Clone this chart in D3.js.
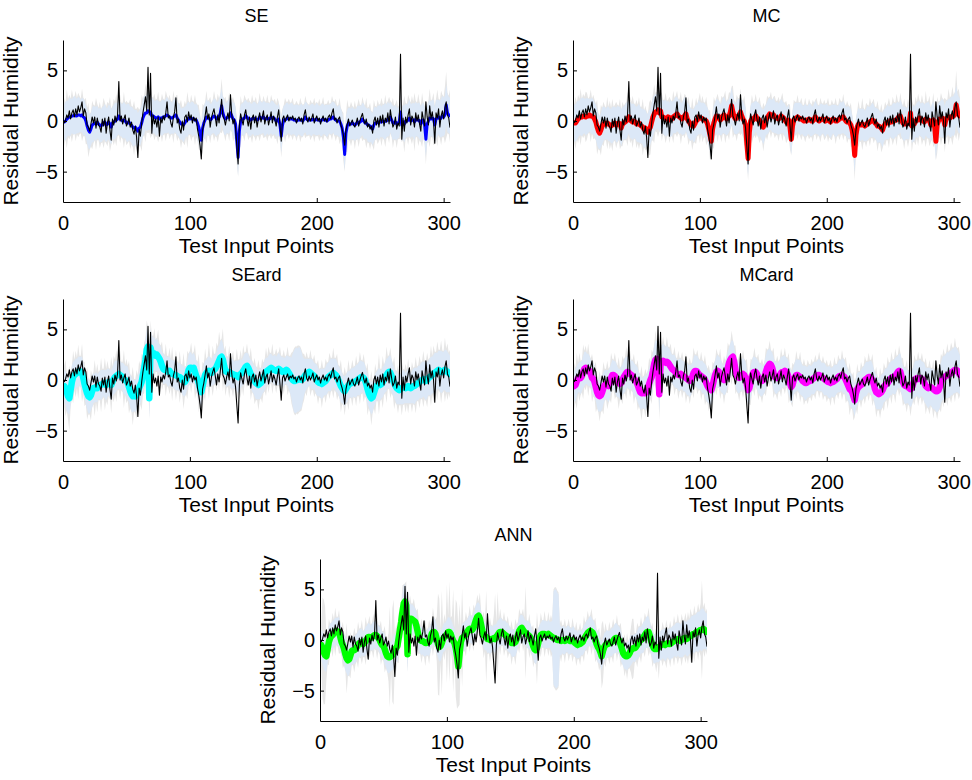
<!DOCTYPE html>
<html><head><meta charset="utf-8">
<script src="https://cdn.jsdelivr.net/npm/d3@7"></script>
<style>body{margin:0;background:#fff}svg{display:block}text{font-family:"Liberation Sans",Arial,sans-serif;fill:#000}</style>
</head><body>
<script>
const panelTitles = ["SE","MC","SEard","MCard","ANN"];
const xTickValues = [0,100,200,300];
const yTickValues = [-5,0,5];
const xLabel = "Test Input Points";
const yLabel = "Residual Humidity";

// observed residual humidity (black line), test points 1..305
const obs = [
-0.2,0.1,0.6,0.3,1.0,0.2,0.8,1.1,0.4,1.2,
0.6,1.5,0.9,1.3,1.9,0.5,1.2,0.8,-0.4,-0.6,
-1.0,-0.3,0.4,-0.2,0.4,-0.7,0.3,-0.4,-0.6,-1.1,
0.2,-0.5,0.3,-1.2,-0.2,0.4,-0.9,-1.9,0.2,-0.4,
0.5,-0.1,0.6,3.9,0.0,0.5,-0.3,0.2,0.6,-0.5,
-0.2,0.3,-0.6,-0.1,-0.9,-1.3,-0.5,-1.6,-3.6,-0.8,
-1.5,-0.2,0.8,1.6,2.4,1.0,5.3,0.6,4.7,-1.2,
0.6,-0.3,0.2,-0.6,0.4,-1.5,0.3,-0.2,0.5,0.1,
0.8,1.9,0.3,0.5,-0.2,-0.6,0.4,0.9,2.3,-0.2,
0.2,-0.8,-1.2,0.0,-0.9,0.4,0.6,-0.1,0.9,0.2,
0.6,-0.2,0.4,0.0,0.3,-0.8,-1.5,-2.4,-3.75,-0.9,
-0.3,0.5,1.4,0.2,0.7,-0.6,0.3,0.8,1.2,0.4,
-0.5,0.6,-0.2,0.9,2.15,0.5,0.2,-0.4,0.3,0.8,
0.0,2.6,0.6,-0.3,0.2,-0.7,-2.5,-4.25,-0.5,0.7,
0.1,-0.4,0.6,1.1,0.2,-0.5,0.4,-0.8,0.3,0.6,
-0.2,0.5,-0.6,0.2,0.8,-0.1,0.4,1.0,-0.3,0.3,
0.6,-0.4,0.2,0.9,-0.2,0.5,0.1,-0.5,0.4,1.1,
-0.4,-2.0,0.2,0.5,-0.1,0.3,0.6,0.0,0.4,0.2,
0.5,0.1,0.3,-0.2,0.2,0.4,0.0,0.3,-0.3,0.6,
1.1,0.2,-0.1,0.4,0.0,0.3,0.7,-0.2,0.2,0.5,
0.0,0.3,-0.3,0.2,0.5,0.0,0.3,-0.1,0.4,0.6,
0.2,0.8,1.2,0.1,0.3,-0.2,0.2,0.4,-0.4,-0.8,
-1.4,-2.4,-0.9,-0.3,0.2,-0.5,-0.2,0.1,-0.4,-0.6,
-0.2,0.3,-0.5,0.0,0.4,0.75,0.1,-0.3,0.2,-0.6,
-0.3,-0.8,-0.5,-1.2,0.0,0.4,-0.4,0.3,-0.6,0.5,
-0.2,0.6,-0.5,0.3,-0.1,0.8,-0.3,1.1,0.2,-0.6,
-0.3,0.4,-0.8,-0.2,-0.5,6.6,-1.8,0.3,-1.0,0.4,
-0.2,0.6,1.2,-0.4,0.5,0.2,-0.6,0.8,0.0,0.6,
-0.3,-1.0,0.9,0.2,-0.5,1.9,0.4,-0.4,1.5,0.2,
0.9,0.0,-2.2,0.8,0.3,1.2,-0.6,0.5,1.0,0.2,
1.3,1.9,0.6,0.3,-0.65];

// predictive means
const seMean = [
-0.1,0.0,0.2,0.3,0.4,0.4,0.5,0.5,0.6,0.5,
0.5,0.6,0.6,0.5,0.6,0.4,0.3,0.0,-0.5,-0.9,
-1.1,-0.8,-0.4,-0.3,-0.2,-0.3,-0.1,-0.3,-0.4,-0.5,
-0.3,-0.2,-0.1,-0.4,-0.3,-0.1,-0.3,-0.6,-0.2,-0.1,
0.0,0.1,0.2,0.5,0.2,0.1,0.0,0.1,0.0,-0.2,
-0.2,-0.1,-0.3,-0.4,-0.6,-0.7,-0.6,-0.8,-1.0,-0.7,
-0.6,-0.2,0.3,0.6,0.8,0.8,1.0,0.9,0.9,0.5,
0.5,0.4,0.3,0.3,0.4,0.2,0.3,0.3,0.4,0.4,
0.5,0.6,0.5,0.4,0.3,0.3,0.4,0.5,0.6,0.3,
0.1,-0.1,-0.3,-0.3,-0.4,-0.2,0.0,0.1,0.3,0.2,
0.3,0.2,0.2,0.1,0.1,-0.2,-0.6,-1.2,-1.9,-0.7,
-0.2,0.1,0.4,0.3,0.3,0.1,0.2,0.4,0.5,0.4,
0.2,0.3,0.4,0.8,1.5,0.8,0.4,0.2,0.3,0.4,
0.4,0.8,0.5,0.2,0.1,-0.3,-2.0,-3.6,-1.0,0.0,
0.2,0.2,0.3,0.5,0.4,0.2,0.2,0.1,0.2,0.3,
0.2,0.2,0.1,0.2,0.4,0.3,0.3,0.4,0.2,0.2,
0.3,0.2,0.2,0.4,0.3,0.3,0.2,0.0,0.0,0.2,
-0.4,-1.5,-0.4,0.1,0.1,0.2,0.3,0.2,0.2,0.2,
0.2,0.1,0.1,0.0,0.1,0.1,0.1,0.1,0.0,0.2,
0.4,0.2,0.1,0.1,0.1,0.1,0.2,0.1,0.1,0.2,
0.1,0.1,0.0,0.1,0.2,0.1,0.1,0.0,0.1,0.2,
0.2,0.3,0.4,0.2,0.1,0.0,0.0,0.0,-0.3,-0.7,
-1.6,-3.3,-1.2,-0.5,-0.2,-0.3,-0.3,-0.2,-0.3,-0.4,
-0.3,-0.1,-0.2,-0.1,0.0,0.2,0.0,-0.2,-0.2,-0.4,
-0.4,-0.5,-0.6,-0.8,-0.4,-0.2,-0.2,-0.1,-0.2,0.0,
-0.1,0.0,-0.1,0.0,0.0,0.2,0.1,0.4,0.1,-0.2,
-0.2,-0.1,-0.3,-0.2,-0.1,0.9,-0.4,-0.1,-0.3,0.0,
0.0,0.1,0.3,0.0,0.1,0.1,-0.1,0.2,0.1,0.1,
0.0,-0.3,0.1,0.1,-0.4,-1.8,-0.3,0.0,0.3,0.2,
0.3,0.2,-0.4,0.2,0.3,0.4,0.2,0.3,0.5,0.4,
0.6,1.6,0.8,0.6,0.5];

const mcMean = [
-0.2,-0.2,0.0,0.2,0.3,0.4,0.4,0.5,0.5,0.4,
0.5,0.5,0.6,0.5,0.5,0.4,0.2,-0.1,-0.6,-1.0,
-1.2,-0.9,-0.5,-0.3,-0.2,-0.3,-0.2,-0.3,-0.4,-0.5,
-0.4,-0.3,-0.2,-0.4,-0.3,-0.2,-0.3,-0.7,-0.3,-0.2,
-0.1,0.0,0.2,0.4,0.1,0.0,-0.1,0.0,-0.1,-0.3,
-0.3,-0.2,-0.4,-0.5,-0.6,-0.8,-0.7,-0.9,-1.1,-0.8,
-0.6,-0.1,0.4,0.7,0.9,0.9,1.1,0.8,1.0,0.4,
0.4,0.3,0.3,0.2,0.4,0.1,0.3,0.2,0.4,0.5,
0.6,0.7,0.5,0.4,0.3,0.2,0.4,0.5,0.7,0.2,
0.0,-0.2,-0.4,-0.3,-0.5,-0.3,0.0,0.1,0.4,0.3,
0.3,0.2,0.1,0.1,0.0,-0.3,-0.8,-1.4,-2.0,-0.8,
-0.2,0.2,0.5,0.3,0.4,0.1,0.2,0.5,0.6,0.4,
0.2,0.4,0.5,0.9,1.5,0.9,0.4,0.2,0.3,0.5,
0.5,0.9,0.5,0.2,0.0,-0.4,-2.2,-3.7,-1.1,0.0,
0.2,0.1,0.3,0.5,0.3,0.1,0.1,-0.1,-0.4,-0.6,
-0.3,0.1,0.3,0.5,0.7,0.6,0.5,0.6,0.4,0.3,
0.3,0.2,0.3,0.5,0.4,0.3,0.1,-0.1,-0.2,0.1,
-0.6,-1.8,-0.5,0.1,0.2,0.3,0.4,0.3,0.2,0.2,
0.1,0.0,0.1,0.0,0.1,0.2,0.1,0.0,0.0,0.2,
0.4,0.2,0.1,0.0,0.1,0.2,0.2,0.1,0.0,0.2,
0.1,0.0,-0.1,0.1,0.2,0.1,0.0,0.0,0.1,0.2,
0.3,0.3,0.4,0.2,0.0,-0.1,-0.1,-0.2,-0.4,-0.9,
-1.8,-3.4,-1.4,-0.6,-0.3,-0.4,-0.4,-0.3,-0.4,-0.5,
-0.4,-0.2,-0.2,-0.1,0.0,0.1,0.0,-0.2,-0.3,-0.5,
-0.5,-0.6,-0.7,-0.9,-0.5,-0.3,-0.2,-0.1,-0.2,0.0,
-0.1,0.0,0.0,0.1,0.1,0.3,0.2,0.5,0.1,-0.2,
-0.3,-0.2,-0.3,-0.2,-0.1,0.8,-0.5,-0.2,-0.3,0.0,
0.1,0.1,0.3,0.1,0.1,0.0,-0.1,0.2,0.1,0.1,
0.0,-0.4,0.0,0.1,-0.5,-2.0,-0.4,0.0,0.2,0.2,
0.3,0.2,-0.4,0.2,0.3,0.4,0.3,0.4,0.5,0.5,
0.8,1.6,0.9,0.6,0.5];

const seardMean = [
-0.6,-0.8,-1.2,-1.6,-1.8,-1.0,-0.2,0.3,0.5,0.6,
0.7,0.8,0.9,0.8,0.7,0.2,-0.4,-0.9,-1.3,-1.6,
-1.7,-1.5,-1.1,-0.8,-0.8,-0.7,-0.8,-0.6,-0.5,-0.5,
-0.4,-0.3,-0.4,-0.5,-0.3,-0.2,-0.4,-0.5,-0.2,0.1,
0.3,0.4,0.5,0.6,0.5,0.4,0.3,0.1,0.0,-0.1,
-0.3,-0.7,-1.1,-1.4,-1.6,-1.5,-1.6,-1.4,-1.2,-0.8,
-0.5,-0.2,0.5,1.2,2.0,3.0,3.3,-1.8,3.2,2.6,
2.5,2.6,2.4,2.5,2.3,2.1,1.8,1.4,1.1,1.0,
1.0,0.9,0.8,0.9,0.7,0.6,0.6,0.5,0.5,0.4,
0.3,0.3,0.2,0.0,-0.1,-0.2,0.0,0.5,1.0,1.2,
1.2,1.1,1.2,0.8,0.4,0.1,-0.3,-0.8,-1.2,-0.6,
0.0,0.5,0.7,0.8,0.9,0.8,0.7,0.9,1.0,1.1,
1.3,1.6,1.9,2.2,2.3,2.0,1.4,0.9,0.8,0.8,
0.8,0.7,0.6,0.6,0.5,0.5,0.4,0.3,0.5,0.6,
0.7,0.9,1.1,1.3,1.4,1.2,0.9,0.6,0.4,0.1,
-0.1,-0.3,-0.4,-0.5,-0.4,-0.3,-0.1,0.2,0.5,0.8,
0.9,1.0,1.1,1.2,1.1,1.0,1.0,0.9,1.0,1.1,
1.0,0.9,0.8,0.8,0.9,1.0,0.9,0.7,0.5,0.2,
0.0,-0.1,-0.1,0.0,0.0,0.1,0.1,0.0,0.1,0.3,
0.5,0.6,0.7,0.8,0.7,0.6,0.5,0.4,0.2,0.0,
-0.2,-0.3,-0.3,-0.4,-0.3,-0.2,-0.1,0.1,0.3,0.4,
0.5,0.6,0.7,0.6,0.5,0.3,0.0,-0.3,-0.6,-0.8,
-1.0,-1.1,-0.9,-0.7,-0.5,-0.4,-0.3,-0.3,-0.2,-0.2,
-0.1,0.0,0.1,0.2,0.3,0.3,0.2,0.0,-0.4,-0.9,
-1.3,-1.6,-1.8,-1.7,-1.3,-0.9,-0.6,-0.5,-0.4,-0.5,
-0.4,-0.2,0.0,0.3,0.5,0.7,0.8,0.7,0.4,0.0,
-0.3,-0.6,-0.8,-0.9,-1.0,-0.9,-0.8,-0.7,-0.7,-0.8,
-0.7,-0.6,-0.7,-0.8,-0.7,-0.6,-0.6,-0.5,-0.4,-0.3,
-0.2,-0.1,0.0,0.1,0.0,-0.1,0.0,0.2,0.3,0.4,
0.5,0.6,0.7,0.8,0.9,1.0,0.9,0.8,0.8,0.9,
1.0,0.9,0.8,0.7,0.6];

const mcardMean = [
-0.6,-0.5,-0.1,0.2,0.3,0.2,0.4,0.8,1.1,1.2,
1.1,1.0,0.9,0.6,0.2,0.1,-0.2,-0.7,-1.2,-1.5,
-1.6,-1.5,-1.2,-0.8,-0.5,-0.4,-0.5,-0.6,-0.3,0.2,
0.5,0.5,0.4,0.1,-0.2,-0.3,-0.4,-0.3,0.0,0.3,
0.5,0.7,0.8,0.7,0.6,0.5,0.4,0.1,0.0,-0.2,
-0.5,-0.9,-1.2,-1.3,-1.3,-1.2,-1.3,-1.1,-0.8,-0.4,
0.0,0.3,0.9,1.6,2.0,2.1,2.0,-1.4,1.6,1.8,
1.9,1.8,1.7,1.8,1.7,1.5,1.3,1.1,1.0,0.9,
0.7,0.6,0.5,0.5,0.6,0.5,0.4,0.3,0.2,0.1,
0.0,-0.1,0.0,0.3,0.7,0.9,0.9,0.8,0.6,0.5,
0.4,0.3,0.2,0.0,-0.3,-0.6,-0.8,-0.9,-1.0,-0.6,
0.0,0.5,0.8,0.9,0.8,0.6,0.3,0.1,0.0,0.2,
0.6,1.2,1.7,2.0,2.2,2.3,1.8,1.0,0.5,0.3,
0.2,0.3,0.5,0.6,0.5,0.2,-0.4,-1.0,-0.8,-0.2,
0.4,0.7,0.8,0.8,0.6,0.3,0.1,0.0,-0.1,0.0,
0.3,0.8,1.2,1.4,1.6,1.5,1.2,0.7,0.3,0.2,
0.2,0.3,0.5,0.7,0.8,0.8,0.9,0.8,0.6,0.2,
-0.3,-0.7,-0.5,0.0,0.3,0.5,0.5,0.4,0.3,0.1,
-0.1,-0.2,-0.3,-0.3,-0.2,-0.1,-0.1,0.0,0.1,0.2,
0.3,0.4,0.5,0.5,0.4,0.3,0.2,0.1,0.0,-0.1,
-0.2,-0.2,-0.3,-0.2,-0.2,-0.1,0.0,0.1,0.3,0.4,
0.4,0.5,0.4,0.3,0.0,-0.3,-0.6,-0.9,-1.0,-1.2,
-1.6,-2.0,-1.3,-0.9,-0.7,-0.6,-0.5,-0.4,-0.2,0.0,
0.1,0.2,0.3,0.3,0.2,0.0,-0.4,-0.9,-1.2,-1.3,
-1.4,-1.3,-1.2,-1.0,-0.7,-0.5,-0.4,-0.3,-0.1,0.1,
0.2,0.3,0.3,0.4,0.6,0.8,0.9,0.8,0.3,-0.2,
-0.5,-0.6,-0.6,-0.7,-0.8,-0.9,-0.8,-0.4,0.0,0.1,
0.2,0.1,0.1,0.2,0.1,0.0,-0.3,-0.6,-0.7,-0.8,
-0.7,-0.7,-0.8,-0.9,-1.0,-1.1,-1.1,-1.0,-0.7,-0.3,
0.1,0.2,0.3,0.4,0.5,0.5,0.6,0.7,0.8,0.9,
1.0,1.0,0.9,0.7,0.5];

const annMean = [
-0.5,-0.8,-1.2,-1.5,-1.6,-0.9,-0.2,0.2,0.4,0.5,
0.7,0.8,0.9,0.8,0.8,0.3,-0.2,-0.5,-0.9,-1.4,
-1.8,-2.0,-1.9,-1.5,-1.1,-1.0,-1.0,-0.9,-0.7,-0.5,
-0.3,-0.3,-0.2,-0.4,-0.3,-0.1,0.1,0.3,0.3,0.2,
0.3,0.4,0.5,0.5,0.4,0.2,0.0,-0.3,-0.5,-0.6,
-0.9,-1.3,-1.6,-1.7,-1.7,-1.6,-1.5,-1.2,-0.9,-0.8,
-0.6,0.2,1.0,1.8,2.8,3.6,3.8,3.4,-1.4,2.0,
2.1,2.1,2.0,1.9,1.8,1.4,0.8,0.2,0.0,-0.1,
-0.1,-0.2,-0.3,-0.3,-0.2,-0.2,0.1,0.6,0.8,0.8,
0.6,0.1,-0.4,-0.7,-0.6,-0.3,0.1,0.3,0.4,0.6,
0.8,0.8,0.6,0.2,-0.1,-0.3,-0.8,-1.6,-2.6,-1.4,
-0.2,0.2,0.3,0.4,0.6,0.8,1.0,1.1,1.0,1.0,
1.2,1.6,2.0,2.3,2.4,2.1,1.5,0.9,0.5,0.4,
0.3,0.1,0.1,0.0,0.1,0.1,0.2,0.1,0.3,0.5,
0.7,0.8,0.8,0.7,0.6,0.5,0.4,0.3,0.1,-0.1,
-0.3,-0.3,-0.3,-0.2,0.1,0.5,0.9,1.1,1.2,1.0,
0.8,0.7,0.6,0.5,0.4,0.2,-0.2,-0.6,-0.9,-1.0,
-0.8,-0.3,0.2,0.5,0.6,0.6,0.6,0.5,0.5,0.6,
0.5,0.4,0.3,0.2,0.2,0.1,0.0,0.0,0.0,-0.1,
0.0,0.0,-0.1,0.0,0.1,0.0,-0.1,-0.1,0.0,-0.1,
-0.3,-0.4,-0.5,-0.4,-0.4,-0.3,-0.2,0.1,0.3,0.5,
0.7,0.8,0.9,0.8,0.7,0.4,0.0,-0.4,-0.7,-0.9,
-1.2,-1.6,-1.1,-0.7,-0.5,-0.4,-0.4,-0.3,-0.3,-0.2,
-0.1,0.1,0.2,0.2,0.1,-0.1,-0.5,-0.9,-1.3,-1.5,
-1.6,-1.6,-1.5,-1.3,-1.0,-0.9,-0.8,-0.8,-0.7,-0.5,
-0.3,-0.1,0.0,0.1,0.3,0.5,0.7,0.8,0.8,0.4,
-0.1,-0.5,-0.8,-0.9,-0.9,-0.8,-0.7,-0.6,-0.5,-0.4,
-0.4,-0.5,-0.4,-0.3,-0.4,-0.4,-0.3,-0.2,-0.1,0.0,
0.0,0.1,0.0,-0.1,0.0,0.1,0.2,0.2,0.1,0.2,
0.3,0.4,0.5,0.6,0.6,0.7,0.8,0.8,0.9,1.0,
1.0,1.1,1.0,0.9,0.8];

// half-widths of the light blue confidence band
const seBand = [
1.8,1.9,1.8,1.7,1.9,1.8,1.7,1.8,1.9,1.8,
1.7,1.8,1.7,1.6,1.7,1.8,1.7,1.6,1.7,1.8,
1.7,1.6,1.7,1.8,1.6,1.7,1.6,1.5,1.7,1.6,
1.7,1.6,1.8,1.7,1.6,1.7,1.8,1.7,1.6,1.7,
1.8,1.7,1.6,1.8,1.7,1.6,1.7,1.8,1.7,1.8,
1.9,1.8,1.7,1.8,1.9,1.8,1.7,1.9,1.8,1.7,
1.8,1.7,1.8,1.9,1.7,1.8,1.9,1.8,1.7,1.8,
1.7,1.6,1.7,1.8,1.6,1.7,1.6,1.8,1.7,1.6,
1.7,1.8,1.6,1.7,1.6,1.5,1.7,1.6,1.8,1.7,
1.6,1.7,1.5,1.6,1.7,1.6,1.5,1.7,1.6,1.5,
1.6,1.7,1.6,1.5,1.6,1.7,1.6,1.7,1.6,1.5,
1.6,1.7,1.8,1.6,1.7,1.6,1.5,1.6,1.7,1.8,
1.7,1.6,1.7,1.8,1.7,1.6,1.7,1.6,1.5,1.6,
1.7,1.6,1.5,1.6,1.7,1.6,1.7,1.8,1.7,1.6,
1.5,1.6,1.7,1.6,1.5,1.6,1.7,1.6,1.5,1.6,
1.7,1.6,1.5,1.6,1.7,1.6,1.5,1.6,1.7,1.6,
1.5,1.6,1.5,1.6,1.7,1.6,1.5,1.6,1.5,1.6,
1.5,1.6,1.5,1.4,1.5,1.6,1.5,1.4,1.5,1.6,
1.5,1.4,1.5,1.6,1.5,1.4,1.5,1.6,1.5,1.4,
1.5,1.6,1.5,1.4,1.5,1.6,1.5,1.4,1.5,1.6,
1.5,1.4,1.5,1.6,1.5,1.4,1.5,1.6,1.5,1.4,
1.5,1.6,1.5,1.6,1.5,1.4,1.5,1.6,1.5,1.6,
1.7,1.6,1.7,1.6,1.5,1.6,1.5,1.6,1.5,1.6,
1.5,1.6,1.7,1.6,1.5,1.6,1.7,1.6,1.5,1.6,
1.7,1.6,1.5,1.6,1.7,1.6,1.5,1.6,1.7,1.6,
1.5,1.6,1.7,1.8,1.6,1.7,1.6,1.5,1.6,1.7,
1.6,1.7,1.6,1.5,1.6,1.7,1.6,1.7,1.8,1.7,
1.6,1.7,1.8,1.7,1.6,1.7,1.8,1.7,1.6,1.7,
1.8,1.7,1.6,1.7,1.8,1.7,1.8,1.9,1.8,1.7,
1.8,1.9,1.8,1.9,1.8,1.7,1.8,1.9,2.0,1.9,
1.9,2.0,1.9,1.8,1.8];

const mcBand = [
1.9,1.8,1.9,1.8,1.7,1.8,1.9,1.8,1.7,1.8,
1.8,1.7,1.6,1.7,1.8,1.7,1.6,1.7,1.8,1.7,
1.6,1.7,1.8,1.7,1.6,1.5,1.6,1.7,1.6,1.7,
1.8,1.7,1.6,1.7,1.8,1.6,1.7,1.8,1.7,1.6,
1.7,1.8,1.7,1.6,1.8,1.7,1.8,1.7,1.6,1.7,
1.8,1.9,1.8,1.7,1.8,1.9,1.8,1.7,1.8,1.9,
1.7,1.8,1.9,1.8,1.8,1.7,1.8,1.9,1.8,1.7,
1.6,1.7,1.8,1.7,1.6,1.7,1.8,1.7,1.6,1.7,
1.8,1.7,1.6,1.7,1.5,1.6,1.7,1.8,1.7,1.6,
1.7,1.6,1.6,1.5,1.6,1.7,1.6,1.5,1.7,1.6,
1.5,1.6,1.7,1.6,1.5,1.6,1.7,1.6,1.5,1.6,
1.7,1.6,1.7,1.8,1.6,1.5,1.6,1.7,1.8,1.7,
1.6,1.7,1.6,1.7,1.8,1.7,1.6,1.5,1.6,1.7,
1.6,1.5,1.6,1.7,1.6,1.7,1.8,1.7,1.6,1.5,
1.6,1.7,1.6,1.5,1.6,1.7,1.6,1.5,1.6,1.7,
1.6,1.5,1.6,1.7,1.6,1.5,1.6,1.7,1.6,1.5,
1.6,1.5,1.6,1.7,1.6,1.5,1.6,1.5,1.6,1.5,
1.6,1.5,1.4,1.5,1.6,1.5,1.4,1.5,1.6,1.5,
1.4,1.5,1.6,1.5,1.4,1.5,1.6,1.5,1.4,1.5,
1.6,1.5,1.4,1.5,1.6,1.5,1.4,1.5,1.6,1.5,
1.4,1.5,1.6,1.5,1.4,1.5,1.6,1.5,1.4,1.5,
1.6,1.5,1.6,1.5,1.4,1.5,1.6,1.5,1.6,1.5,
1.6,1.7,1.6,1.5,1.6,1.5,1.6,1.5,1.6,1.5,
1.6,1.7,1.6,1.5,1.6,1.7,1.6,1.5,1.6,1.7,
1.6,1.5,1.6,1.7,1.6,1.5,1.6,1.7,1.6,1.5,
1.6,1.7,1.8,1.6,1.7,1.6,1.5,1.6,1.7,1.6,
1.7,1.6,1.5,1.6,1.7,1.6,1.7,1.8,1.7,1.6,
1.7,1.8,1.7,1.6,1.7,1.8,1.7,1.6,1.7,1.8,
1.7,1.6,1.7,1.8,1.7,1.8,1.9,1.8,1.7,1.8,
1.9,1.8,1.9,1.8,1.7,1.8,1.9,2.0,1.9,2.0,
2.0,1.9,1.8,1.8,1.7];

const seardBand = [
1.6,1.7,1.8,1.7,1.6,1.5,1.6,1.5,1.4,1.5,
1.4,1.5,1.4,1.5,1.6,1.5,1.4,1.5,1.6,1.7,
1.6,1.5,1.6,1.5,1.4,1.5,1.4,1.3,1.4,1.5,
1.4,1.3,1.4,1.5,1.4,1.3,1.4,1.5,1.4,1.5,
1.6,1.5,1.4,1.5,1.4,1.3,1.4,1.5,1.4,1.5,
1.6,1.5,1.6,1.7,1.6,1.5,1.6,1.5,1.6,1.7,
1.8,1.7,1.8,1.9,2.0,1.9,1.8,2.0,1.9,1.8,
1.7,1.6,1.5,1.6,1.5,1.4,1.5,1.4,1.5,1.4,
1.3,1.4,1.5,1.4,1.3,1.4,1.3,1.4,1.5,1.4,
1.3,1.4,1.3,1.4,1.5,1.4,1.3,1.4,1.5,1.6,
1.5,1.4,1.5,1.6,1.5,1.6,1.7,1.6,1.5,1.4,
1.5,1.4,1.3,1.4,1.5,1.4,1.3,1.4,1.5,1.4,
1.5,1.6,1.5,1.6,1.7,1.6,1.5,1.4,1.5,1.4,
1.3,1.4,1.5,1.4,1.3,1.4,1.5,1.6,1.5,1.4,
1.3,1.4,1.5,1.4,1.3,1.4,1.3,1.4,1.5,1.4,
1.5,1.6,1.5,1.4,1.5,1.4,1.3,1.4,1.5,1.4,
1.3,1.4,1.5,1.4,1.3,1.4,1.5,1.4,1.5,1.6,
1.5,1.4,1.5,1.4,1.3,1.4,1.5,1.6,1.8,2.0,
2.6,3.0,3.2,3.2,3.1,3.2,3.0,2.8,2.2,1.8,
1.6,1.5,1.4,1.3,1.4,1.5,1.4,1.3,1.4,1.5,
1.4,1.3,1.4,1.5,1.4,1.3,1.4,1.5,1.4,1.5,
1.6,1.5,1.4,1.5,1.6,1.5,1.4,1.5,1.6,1.5,
1.4,1.5,1.4,1.5,1.4,1.3,1.4,1.5,1.4,1.5,
1.6,1.5,1.6,1.7,1.6,1.5,1.6,1.5,1.4,1.5,
1.4,1.5,1.6,1.5,1.4,1.5,1.4,1.5,1.6,1.5,
1.4,1.5,1.4,1.5,1.6,1.5,1.6,1.7,1.6,1.5,
1.4,1.5,1.6,1.5,1.4,1.5,1.6,1.7,1.6,1.5,
1.6,1.7,1.6,1.5,1.6,1.7,1.8,1.7,1.6,1.7,
1.6,1.7,1.8,1.7,1.8,1.9,1.8,1.7,1.8,1.9,
1.8,1.9,2.0,1.9,1.8,1.9,2.0,2.1,2.0,1.9,
2.0,2.1,2.0,1.9,1.8];

const mcardBand = [
1.5,1.6,1.5,1.4,1.5,1.6,1.5,1.6,1.7,1.6,
1.5,1.6,1.5,1.4,1.5,1.6,1.5,1.4,1.5,1.6,
1.5,1.6,1.7,1.6,1.5,1.4,1.5,1.6,1.5,1.4,
1.5,1.4,1.5,1.6,1.5,1.4,1.5,1.6,1.5,1.6,
1.7,1.6,1.5,1.6,1.5,1.4,1.5,1.6,1.5,1.6,
1.7,1.6,1.7,1.6,1.5,1.6,1.7,1.6,1.7,1.6,
1.7,1.8,1.7,1.8,1.9,1.8,1.7,1.8,1.7,1.6,
1.7,1.6,1.5,1.6,1.5,1.6,1.5,1.4,1.5,1.6,
1.5,1.4,1.5,1.6,1.5,1.4,1.5,1.4,1.5,1.6,
1.5,1.6,1.5,1.4,1.5,1.6,1.5,1.6,1.5,1.4,
1.5,1.6,1.5,1.6,1.7,1.6,1.5,1.6,1.5,1.6,
1.5,1.4,1.5,1.6,1.5,1.6,1.5,1.4,1.5,1.6,
1.7,1.6,1.5,1.6,1.7,1.6,1.5,1.6,1.5,1.6,
1.5,1.4,1.5,1.6,1.5,1.6,1.5,1.4,1.5,1.6,
1.5,1.6,1.5,1.4,1.5,1.6,1.5,1.6,1.5,1.4,
1.5,1.6,1.7,1.6,1.5,1.4,1.5,1.6,1.5,1.6,
1.5,1.4,1.5,1.6,1.5,1.6,1.5,1.4,1.5,1.6,
1.5,1.6,1.5,1.4,1.5,1.6,1.5,1.6,1.7,1.6,
1.5,1.6,1.7,1.6,1.5,1.6,1.5,1.4,1.5,1.6,
1.5,1.4,1.5,1.6,1.5,1.4,1.5,1.6,1.5,1.4,
1.5,1.6,1.5,1.4,1.5,1.6,1.5,1.4,1.5,1.6,
1.5,1.6,1.7,1.6,1.5,1.6,1.5,1.6,1.7,1.6,
1.5,1.6,1.5,1.6,1.5,1.4,1.5,1.6,1.5,1.6,
1.7,1.6,1.5,1.6,1.7,1.6,1.5,1.6,1.7,1.6,
1.5,1.6,1.7,1.6,1.5,1.6,1.5,1.6,1.7,1.6,
1.7,1.6,1.7,1.8,1.7,1.6,1.7,1.8,1.7,1.6,
1.7,1.8,1.7,1.6,1.7,1.8,1.7,1.6,1.7,1.8,
1.7,1.8,1.9,1.8,1.7,1.8,1.9,1.8,1.9,2.0,
1.9,1.8,1.9,2.0,1.9,2.0,2.1,2.0,2.1,2.0,
2.1,2.2,2.1,2.2,2.3,2.2,2.3,2.2,2.3,2.2,
2.3,2.2,2.1,2.0,1.9];

const annBand = [
1.5,1.6,1.7,1.6,1.5,1.4,1.5,1.4,1.3,1.4,
1.3,1.4,1.3,1.4,1.5,1.4,1.3,1.4,1.5,1.6,
1.5,1.6,1.5,1.4,1.3,1.4,1.3,1.4,1.3,1.4,
1.3,1.4,1.3,1.2,1.3,1.4,1.3,1.4,1.3,1.2,
1.3,1.4,1.3,1.4,1.3,1.2,1.3,1.4,1.3,1.4,
1.5,1.4,1.5,1.6,1.5,1.4,1.5,1.6,1.5,1.4,
1.5,1.6,1.7,1.6,1.7,1.8,1.7,1.6,1.7,1.6,
1.5,1.4,1.5,1.4,1.3,1.4,1.3,1.4,1.3,1.4,
1.3,1.4,1.3,1.2,1.3,1.4,1.3,1.2,1.3,1.4,
1.3,1.4,1.3,1.4,1.5,1.4,1.3,1.4,1.3,1.4,
1.5,1.4,1.5,1.6,1.5,1.4,1.3,1.4,1.5,1.4,
1.3,1.4,1.3,1.4,1.3,1.2,1.3,1.4,1.3,1.4,
1.5,1.4,1.5,1.4,1.3,1.4,1.3,1.4,1.3,1.4,
1.3,1.4,1.3,1.4,1.3,1.2,1.3,1.4,1.3,1.4,
1.3,1.4,1.3,1.2,1.3,1.4,1.3,1.4,1.3,1.2,
1.3,1.4,1.3,1.4,1.3,1.2,1.3,1.4,1.3,1.4,
1.3,1.2,1.3,1.4,1.3,1.4,1.3,1.2,1.3,1.4,
1.3,1.4,1.3,1.2,1.3,1.4,1.3,1.4,1.3,1.4,
1.3,1.4,1.6,4.6,4.8,4.9,4.7,4.5,1.5,1.4,
1.3,1.4,1.3,1.2,1.3,1.4,1.3,1.2,1.3,1.4,
1.3,1.4,1.3,1.4,1.3,1.2,1.3,1.4,1.3,1.4,
1.3,1.4,1.5,1.4,1.3,1.4,1.3,1.4,1.5,1.4,
1.3,1.4,1.3,1.4,1.3,1.4,1.3,1.2,1.3,1.4,
1.3,1.4,1.5,1.4,1.3,1.4,1.5,1.4,1.3,1.4,
1.3,1.4,1.3,1.4,1.5,1.4,1.3,1.4,1.3,1.4,
1.5,1.4,1.3,1.4,1.5,1.4,1.5,1.6,1.5,1.4,
1.3,1.4,1.5,1.4,1.3,1.4,1.5,1.4,1.5,1.4,
1.5,1.6,1.5,1.4,1.5,1.6,1.5,1.6,1.5,1.6,
1.7,1.6,1.7,1.6,1.7,1.8,1.7,1.6,1.7,1.8,
1.7,1.8,1.9,1.8,1.9,1.8,1.9,2.0,1.9,2.0,
2.1,2.0,1.9,1.8,1.8];

// half-widths of the outer grey band (spiky)
const seGray = [
2.4,1.8,2.9,1.9,2.2,1.8,2.6,1.9,1.8,2.5,
1.8,2.2,1.9,1.7,2.6,1.9,1.8,2.3,1.8,2.7,
1.8,1.7,2.4,1.9,1.7,2.6,1.8,1.6,2.3,1.7,
1.8,2.5,1.9,1.8,2.2,1.8,2.7,1.8,1.7,2.3,
1.9,2.6,1.7,1.9,2.4,1.7,1.8,2.8,1.8,2.2,
2.0,1.9,2.5,1.9,2.0,2.7,1.8,2.0,2.4,1.8,
1.9,2.8,1.9,2.0,2.9,1.9,2.2,2.0,2.6,1.9,
1.8,2.3,1.8,1.9,2.5,1.8,1.7,2.4,1.8,1.7,
2.5,1.9,1.7,2.2,1.7,1.6,2.6,1.7,1.9,2.3,
1.7,1.8,2.4,1.7,1.8,2.2,1.6,2.8,1.7,1.6,
2.3,1.8,1.7,2.5,1.7,1.8,2.2,1.8,1.7,2.4,
1.7,1.8,2.6,1.7,1.8,2.3,1.6,1.7,2.5,1.9,
1.8,2.4,1.8,1.9,2.7,1.7,1.8,2.2,1.6,1.7,
2.4,1.7,1.6,2.2,1.8,1.7,2.3,1.9,1.8,2.5,
1.6,1.7,2.3,1.7,1.6,2.1,1.8,1.7,2.4,1.7,
1.8,2.2,1.6,1.7,2.4,1.7,1.6,2.1,1.8,1.7,
2.3,1.7,1.6,2.2,1.8,1.7,2.0,1.7,2.3,1.7,
1.6,2.1,1.6,1.5,2.2,1.7,1.6,2.0,1.6,1.7,
2.1,1.5,1.6,2.0,1.6,1.5,2.2,1.7,1.6,1.5,
2.1,1.7,1.6,1.5,2.0,1.7,1.6,2.2,1.6,1.7,
1.6,2.1,1.6,1.7,2.2,1.5,1.6,1.7,2.0,1.5,
1.6,2.2,1.6,1.7,2.1,1.5,1.6,2.3,1.6,1.7,
2.4,1.7,1.8,2.6,1.6,1.7,2.2,1.7,1.6,2.4,
1.6,1.7,2.4,1.7,1.6,2.2,1.8,1.7,2.5,1.7,
1.8,2.3,1.6,1.7,2.5,1.7,1.6,2.2,1.8,1.7,
2.4,1.7,1.8,2.6,1.7,1.8,2.3,1.6,1.7,2.5,
1.7,1.8,2.4,1.6,1.7,2.6,1.7,1.8,2.8,1.8,
1.7,2.5,1.9,1.8,2.4,1.8,2.9,1.8,1.7,2.6,
1.9,1.8,2.7,1.8,1.9,2.5,1.9,2.0,2.9,1.8,
1.9,2.6,1.9,2.0,2.8,1.8,1.9,2.7,2.1,2.0,
2.8,3.3,2.0,1.9,2.6];

const mcGray = [
1.9,2.6,1.8,2.4,1.9,2.8,1.8,2.2,1.9,2.5,
2.3,1.7,1.8,2.6,1.7,2.2,1.9,1.8,2.7,1.8,
1.7,2.5,1.8,2.2,1.7,1.6,2.6,1.7,2.4,1.8,
2.6,1.7,1.8,2.3,1.9,1.7,2.5,1.8,2.2,1.7,
1.8,1.9,2.7,1.8,2.3,1.9,2.6,1.8,1.7,2.4,
1.9,2.6,1.8,1.9,2.8,1.8,2.2,1.9,1.8,2.6,
2.7,1.9,2.3,2.9,1.9,2.0,2.7,1.9,1.8,2.4,
1.7,1.8,2.5,1.8,1.7,2.3,1.8,1.7,2.6,1.8,
1.9,2.3,1.7,1.8,2.6,1.7,1.8,2.2,1.8,1.7,
2.4,1.7,1.6,2.6,1.7,1.8,2.3,1.6,1.8,2.5,
1.6,2.3,1.8,1.7,2.4,1.7,1.8,2.5,1.6,1.7,
2.6,1.7,1.8,2.4,1.7,1.6,2.3,1.8,1.9,2.6,
1.7,1.8,2.4,1.8,1.9,2.6,1.7,1.6,2.3,1.8,
1.7,2.3,1.7,1.8,2.5,1.8,1.9,2.2,1.7,1.6,
2.4,1.8,1.7,2.2,1.6,1.8,2.3,1.7,1.6,2.4,
1.7,1.6,2.2,1.8,1.7,2.3,1.6,1.8,2.1,1.7,
1.7,2.2,1.6,1.8,2.4,1.6,1.7,2.1,1.7,1.6,
2.2,1.6,1.5,2.0,1.7,1.6,2.2,1.5,1.7,2.1,
1.5,1.6,2.2,1.6,1.5,2.0,1.7,1.6,2.1,1.6,
1.7,2.1,1.5,1.6,2.2,1.6,1.5,2.0,1.7,1.6,
2.2,1.6,1.7,2.0,1.5,1.6,2.3,1.6,1.5,2.1,
1.7,1.6,2.3,1.6,1.5,2.1,1.7,1.6,2.2,1.6,
1.7,2.5,1.7,1.6,2.3,1.6,1.7,2.6,1.7,1.6,
2.2,1.8,1.7,2.4,1.7,1.8,2.2,1.6,1.7,2.5,
1.7,1.6,2.4,1.8,1.7,2.2,1.7,1.8,2.5,1.6,
1.7,2.4,1.9,1.7,2.6,1.7,1.6,2.3,1.8,1.7,
2.5,1.7,1.6,2.4,1.8,1.7,2.6,1.9,1.8,2.4,
1.8,2.6,1.8,1.7,2.5,1.9,1.8,2.8,1.8,1.9,
2.5,1.7,1.8,2.7,1.8,1.9,2.8,1.9,1.8,2.6,
2.0,1.9,2.7,1.9,1.8,2.8,2.0,2.1,2.9,2.1,
2.1,3.4,2.0,2.6,1.8];

const seardGray = [
2.0,2.8,1.8,2.4,3.2,1.7,1.6,2.6,1.5,2.3,
1.5,2.7,1.5,1.6,2.9,1.6,2.2,1.5,2.6,1.8,
1.7,2.5,1.6,1.6,2.8,1.5,2.4,1.4,1.5,2.7,
1.5,1.4,2.6,1.6,2.2,1.4,1.5,2.8,1.5,2.3,
1.7,2.6,1.5,1.6,2.4,1.4,1.5,2.9,1.5,2.2,
1.7,2.6,1.7,1.8,2.9,1.6,1.7,2.4,1.7,2.7,
1.9,2.8,1.9,2.5,2.1,2.9,1.9,2.1,2.7,1.9,
1.8,2.5,1.6,1.7,2.7,1.5,1.6,2.4,1.6,1.5,
2.6,1.5,1.6,2.3,1.4,2.7,1.4,1.5,2.5,1.5,
1.4,2.6,1.4,1.5,2.8,1.5,1.4,2.4,1.6,1.7,
2.5,1.5,1.6,2.7,1.6,1.7,2.9,1.7,1.6,2.4,
1.6,2.6,1.4,1.5,2.8,1.5,1.4,2.5,1.6,1.5,
2.4,1.7,2.9,1.7,1.8,3.1,1.6,2.5,1.6,1.5,
2.6,1.5,1.6,2.3,1.4,1.5,2.7,1.7,1.6,2.4,
1.4,2.5,1.6,1.5,2.2,1.5,1.4,2.6,1.6,1.5,
2.3,1.7,1.6,2.5,1.6,1.5,2.2,1.5,1.6,2.4,
1.4,2.3,1.6,1.5,2.5,1.5,1.6,2.2,1.6,1.7,
2.3,1.5,1.6,2.2,1.4,1.5,2.4,1.7,1.9,2.5,
2.8,3.2,3.4,3.3,3.4,3.3,3.2,3.0,2.5,2.3,
1.7,2.2,1.5,1.4,2.3,1.6,1.5,2.1,1.5,1.6,
2.2,1.4,1.5,2.4,1.5,1.4,2.2,1.6,1.5,2.3,
1.7,1.6,2.5,1.6,1.7,2.3,1.5,1.6,2.6,1.6,
1.5,2.4,1.5,1.6,2.5,1.4,1.5,2.3,1.5,1.6,
2.5,1.6,1.7,2.6,1.7,1.6,2.4,1.6,1.5,2.6,
1.5,1.6,2.7,1.6,1.5,2.5,1.5,1.6,3.0,1.6,
1.5,2.6,1.5,1.6,2.8,1.6,1.7,2.5,1.7,1.6,
2.6,1.6,1.7,2.4,1.5,1.6,2.7,1.8,1.7,2.4,
1.7,2.7,1.7,1.6,2.5,1.8,1.9,2.8,1.7,1.8,
2.6,1.8,1.9,2.8,1.9,2.0,2.7,1.8,1.9,3.0,
1.9,2.8,2.1,2.0,2.9,2.0,2.1,3.1,2.1,2.0,
3.2,2.2,2.8,2.0,2.4];

const mcardGray = [
2.3,1.7,2.8,1.5,2.4,1.7,1.6,2.7,1.8,2.2,
1.6,2.6,1.6,1.5,2.4,1.7,1.6,2.5,1.6,1.7,
2.5,1.7,1.8,2.6,1.6,1.5,2.4,1.7,1.6,2.5,
1.6,1.5,2.3,1.7,1.6,2.6,1.6,1.7,2.4,1.7,
1.8,2.6,1.6,1.7,2.3,1.5,1.6,2.5,1.6,1.7,
2.5,1.7,1.8,2.7,1.6,1.7,2.4,1.7,1.8,2.6,
1.8,2.7,1.8,1.9,2.9,1.9,1.8,2.6,1.8,1.7,
2.4,1.7,1.6,2.5,1.6,1.7,2.3,1.5,1.6,2.4,
1.6,1.5,2.4,1.7,1.6,2.3,1.6,1.5,2.5,1.7,
1.6,2.3,1.6,1.5,2.5,1.7,1.6,2.2,1.6,1.5,
2.4,1.7,1.6,2.5,1.8,1.7,2.3,1.7,1.6,2.4,
1.6,1.5,2.3,1.7,1.6,2.5,1.6,1.5,2.4,1.7,
1.8,2.5,1.6,1.7,2.7,1.7,1.6,2.4,1.6,1.7,
2.3,1.5,1.6,2.4,1.6,1.7,2.5,1.5,1.6,2.3,
1.6,1.7,2.4,1.5,1.6,2.3,1.6,1.7,2.2,1.5,
1.6,2.4,1.8,1.7,2.3,1.5,1.6,2.5,1.6,1.7,
2.2,1.5,1.6,2.4,1.6,1.7,2.3,1.5,1.6,2.5,
1.6,1.7,2.2,1.5,1.6,2.4,1.6,1.7,2.5,1.7,
1.6,2.3,1.8,1.7,2.2,1.7,1.6,2.1,1.6,1.7,
2.2,1.5,1.6,2.3,1.6,1.5,2.2,1.7,1.6,2.1,
1.6,1.7,2.3,1.5,1.6,2.4,1.6,1.5,2.2,1.7,
1.6,2.5,1.8,1.7,2.3,1.7,1.6,2.6,1.8,1.7,
2.4,1.7,1.6,2.5,1.6,1.5,2.3,1.7,1.6,2.4,
1.8,1.7,2.4,1.7,1.8,2.6,1.6,1.7,2.5,1.7,
1.6,2.5,1.8,1.7,2.4,1.7,1.6,2.6,1.8,1.7,
2.6,1.7,1.8,2.7,1.8,1.7,2.5,1.9,1.8,2.4,
1.8,1.9,2.6,1.7,1.8,2.7,1.8,1.7,2.5,1.9,
1.8,2.7,2.0,1.9,2.6,1.9,2.0,2.8,2.0,2.1,
2.7,1.9,2.0,2.9,2.0,2.1,2.8,2.1,2.2,2.9,
2.2,2.9,2.2,2.3,3.1,2.3,2.4,3.0,2.4,2.3,
3.2,2.3,2.2,2.6,2.0];

const annGray = [
2.2,5.0,5.2,4.8,2.4,1.5,2.3,1.4,1.4,2.2,
1.3,2.4,1.4,1.5,2.2,1.5,1.4,2.3,1.6,1.7,
3.5,1.6,1.6,2.3,1.4,1.5,2.2,1.5,1.4,2.3,
1.4,1.5,2.2,1.3,1.4,2.4,1.4,1.5,2.1,1.3,
1.4,2.2,1.4,1.5,2.3,1.3,1.4,2.2,1.4,1.5,
2.3,1.5,1.6,2.4,5.0,1.5,4.6,5.2,1.6,2.3,
1.6,2.5,1.8,1.7,2.6,1.9,1.8,2.4,1.8,1.7,
2.3,1.5,1.6,2.2,1.4,1.5,2.3,1.5,1.4,2.2,
1.4,1.5,2.3,1.3,1.4,2.2,1.4,1.3,2.4,1.5,
1.4,2.2,5.0,4.8,1.6,5.2,1.4,2.3,1.4,4.9,
1.6,5.0,1.6,2.2,5.1,1.5,4.8,5.2,4.0,5.0,
1.4,4.9,1.4,1.5,2.2,1.3,1.4,2.3,1.4,1.5,
2.3,1.5,1.6,2.2,1.4,2.6,1.4,1.5,2.3,1.5,
4.6,1.5,1.4,2.2,1.4,1.3,2.3,4.5,1.4,4.3,
1.4,2.3,1.4,1.3,2.2,1.5,1.4,2.1,1.4,1.3,
2.2,1.3,1.4,2.3,1.4,1.3,2.2,1.5,1.4,2.1,
1.4,4.6,1.4,1.3,2.2,1.3,1.4,2.1,1.3,1.4,
3.6,1.4,1.3,2.2,1.4,1.3,2.3,1.4,1.4,2.2,
1.4,2.1,1.7,4.8,5.0,5.1,4.9,4.7,1.6,2.1,
1.4,1.5,2.2,1.3,1.4,2.1,1.4,1.3,2.2,1.5,
1.4,2.2,1.4,1.5,2.1,1.3,1.4,2.3,1.4,1.5,
2.2,1.4,1.6,2.3,1.4,1.5,2.2,1.5,1.6,2.1,
1.4,3.2,3.0,1.5,2.2,1.4,1.3,2.1,1.4,1.5,
2.2,1.4,1.3,2.3,1.4,1.5,2.2,1.4,1.3,2.1,
1.4,2.3,1.4,1.5,2.2,3.0,2.9,1.5,1.4,2.2,
1.6,1.5,2.3,1.4,1.5,2.2,1.5,1.6,2.4,1.5,
1.4,2.2,1.4,1.5,2.3,1.4,3.2,1.4,1.5,2.2,
1.6,1.7,2.4,1.5,1.6,2.3,1.5,1.6,2.5,1.7,
1.8,2.5,1.8,1.7,2.6,1.9,1.8,2.5,1.8,2.6,
1.8,2.7,2.0,1.9,2.8,1.9,2.0,2.8,2.0,2.6,
4.9,2.1,2.7,1.9,2.3];

const panels = [
  {title: panelTitles[0], mean: seMean,    band: seBand,    gray: seGray,    color: "#0000ff", lw: 3,   left: 63,  top: 40},
  {title: panelTitles[1], mean: mcMean,    band: mcBand,    gray: mcGray,    color: "#ff0000", lw: 5,   left: 573, top: 40},
  {title: panelTitles[2], mean: seardMean, band: seardBand, gray: seardGray, color: "#00ffff", lw: 6.5, left: 63,  top: 299},
  {title: panelTitles[3], mean: mcardMean, band: mcardBand, gray: mcardGray, color: "#ff00ff", lw: 6.5, left: 573, top: 299},
  {title: panelTitles[4], mean: annMean,   band: annBand,   gray: annGray,   color: "#00ff00", lw: 6.5, left: 320, top: 559}
];

const W = 972, H = 780, PW = 387, PH = 162;
const svg = d3.select("body").append("svg").attr("width", W).attr("height", H);

panels.forEach((p, k) => {
  const g = svg.append("g").attr("transform", `translate(${p.left},${p.top})`);
  const x = d3.scaleLinear().domain([0, 305]).range([0, PW]);
  const y = d3.scaleLinear().domain([-8, 8]).range([PH, 0]);
  const n = Math.min(obs.length, p.mean.length, p.band.length, p.gray.length);
  const idx = d3.range(n);
  const cid = "clip" + k;
  g.append("clipPath").attr("id", cid).append("rect").attr("x", 0).attr("y", 0).attr("width", PW).attr("height", PH);
  const plot = g.append("g").attr("clip-path", `url(#${cid})`);

  const area = hw => d3.area()
    .x(i => x(i + 1))
    .y0(i => y(p.mean[i] - hw[i]))
    .y1(i => y(p.mean[i] + hw[i]));

  plot.append("path").datum(idx).attr("d", area(p.gray)).attr("fill", "#e6e6e6");
  plot.append("path").datum(idx).attr("d", area(p.band)).attr("fill", "#dce8f7");
  plot.append("path").datum(idx)
    .attr("d", d3.line().x(i => x(i + 1)).y(i => y(p.mean[i])))
    .attr("fill", "none").attr("stroke", p.color).attr("stroke-width", p.lw)
    .attr("stroke-linejoin", "round").attr("stroke-linecap", "round");
  plot.append("path").datum(idx)
    .attr("d", d3.line().x(i => x(i + 1)).y(i => y(obs[i])))
    .attr("fill", "none").attr("stroke", "#000").attr("stroke-width", 1.1)
    .attr("stroke-linejoin", "round");

  const xa = g.append("g").attr("transform", `translate(0,${PH})`)
    .call(d3.axisBottom(x).tickValues(xTickValues).tickSizeInner(-4).tickSizeOuter(0).tickPadding(14));
  const ya = g.append("g")
    .call(d3.axisLeft(y).tickValues(yTickValues).tickSizeInner(-4).tickSizeOuter(0).tickPadding(5));
  [xa, ya].forEach(a => {
    a.selectAll("path,line").attr("stroke", "#000").attr("stroke-width", 1);
    a.selectAll("text").attr("font-size", 20).attr("font-family", "Liberation Sans, Arial, sans-serif").attr("fill", "#000");
  });

  g.append("text").attr("x", PW / 2).attr("y", -18).attr("text-anchor", "middle")
    .attr("font-size", 18).text(p.title);
  g.append("text").attr("x", PW / 2).attr("y", PH + 51).attr("text-anchor", "middle")
    .attr("font-size", 21).text(xLabel);
  g.append("text").attr("transform", `translate(-45,${PH / 2}) rotate(-90)`).attr("text-anchor", "middle")
    .attr("font-size", 21).text(yLabel);
});
</script>
</body></html>
